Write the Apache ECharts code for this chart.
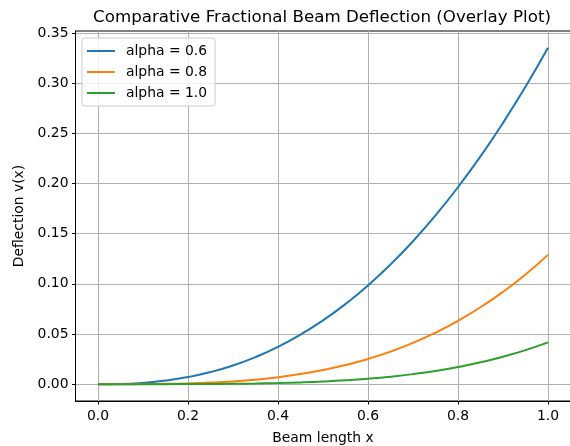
<!DOCTYPE html>
<html>
<head>
<meta charset="utf-8">
<script src="https://cdn.jsdelivr.net/npm/echarts@6/dist/echarts.min.js"></script>
<style>
  html, body { margin: 0; padding: 0; background: #fff; }
  #chart { width: 570px; height: 446px; }
</style>
</head>
<body>
<div id="chart"></div>
<script>
// beam positions and deflections
var xValues = [0, 0.05, 0.1, 0.15, 0.2, 0.25, 0.3, 0.35, 0.4, 0.45, 0.5,
  0.55, 0.6, 0.65, 0.7, 0.75, 0.8, 0.85, 0.9, 0.95, 1.0];
var deflection06 = [0, 0.00025, 0.00134, 0.00354, 0.00705, 0.01204, 0.01865, 0.0270, 0.03721, 0.04937, 0.06356,
  0.07991, 0.09845, 0.1193, 0.1425, 0.1682, 0.1964, 0.2271, 0.2605, 0.2966, 0.3354];
var deflection08 = [0, 0.0000088, 0.000081, 0.000298, 0.000748, 0.001527, 0.002736, 0.004481, 0.006867, 0.01001, 0.01403,
  0.01903, 0.02514, 0.03248, 0.04118, 0.05135, 0.06313, 0.07664, 0.09202, 0.1094, 0.1289];
var deflection10 = [0, 0.0000003, 0.0000042, 0.0000211, 0.0000667, 0.000163, 0.000338, 0.000625, 0.001067, 0.001709, 0.002604,
  0.003813, 0.0054, 0.007438, 0.01, 0.01318, 0.01707, 0.02175, 0.02734, 0.03394, 0.04167];
var seriesNames = ['alpha = 0.6', 'alpha = 0.8', 'alpha = 1.0'];
var xTicks = [0, 0.2, 0.4, 0.6, 0.8, 1.0];
var yTicks = [0, 0.05, 0.1, 0.15, 0.2, 0.25, 0.3, 0.35];

function pairs(ys) {
  var out = [];
  for (var i = 0; i < xValues.length; i++) {
    out.push([xValues[i], ys[i]]);
  }
  return out;
}

var font = 'DejaVu Sans';
var myChart = echarts.init(document.getElementById('chart'));

var option = {
  animation: false,
  backgroundColor: '#ffffff',
  title: {
    text: 'Comparative Fractional Beam Deflection (Overlay Plot)',
    left: 317,
    top: 4,
    textAlign: 'center',
    textStyle: { fontFamily: font, fontSize: 16.7, fontWeight: 'normal', color: '#000' }
  },
  legend: {
    orient: 'vertical',
    left: 82,
    top: 38,
    padding: [5, 8, 5, 5],
    icon: 'rect',
    itemWidth: 28,
    itemHeight: 2,
    itemGap: 5,
    borderColor: '#cccccc',
    borderWidth: 1,
    borderRadius: 3,
    backgroundColor: 'rgba(255,255,255,0.8)',
    textStyle: { fontFamily: font, fontSize: 13.9, color: '#000', padding: [0, 0, 0, 6], lineHeight: 16 },
    data: seriesNames
  },
  grid: {
    left: 75.5,
    right: -0.5,
    top: 31,
    bottom: 45,
    outerBoundsMode: 'none',
    containLabel: false,
    show: true,
    borderColor: '#000',
    borderWidth: 1
  },
  xAxis: {
    type: 'value',
    min: -0.05,
    max: 1.05,
    name: 'Beam length x',
    nameLocation: 'middle',
    nameGap: 30,
    nameTextStyle: { fontFamily: font, fontSize: 13.9, color: '#000' },
    axisLine: { show: true, onZero: false, lineStyle: { color: '#000', width: 1 } },
    axisTick: { show: true, length: 3.5, customValues: xTicks, lineStyle: { color: '#000' } },
    axisLabel: {
      customValues: xTicks,
      margin: 8,
      fontFamily: font, fontSize: 13.9, color: '#000',
      formatter: function (v) { return v.toFixed(1); }
    },
    splitLine: { show: true, lineStyle: { color: '#b0b0b0', width: 1 } }
  },
  yAxis: {
    type: 'value',
    min: -0.0168,
    max: 0.3521,
    name: 'Deflection v(x)',
    nameLocation: 'middle',
    nameGap: 42,
    nameTextStyle: { fontFamily: font, fontSize: 13.9, color: '#000' },
    axisLine: { show: true, onZero: false, lineStyle: { color: '#000', width: 1 } },
    axisTick: { show: true, length: 3.5, customValues: yTicks, lineStyle: { color: '#000' } },
    axisLabel: {
      customValues: yTicks,
      margin: 7,
      fontFamily: font, fontSize: 13.9, color: '#000',
      formatter: function (v) { return v.toFixed(2); }
    },
    splitLine: { show: true, lineStyle: { color: '#b0b0b0', width: 1 } }
  },
  series: [
    { name: seriesNames[0], type: 'line', data: pairs(deflection06), symbol: 'none', smooth: true,
      lineStyle: { color: '#1f77b4', width: 2 }, itemStyle: { color: '#1f77b4' } },
    { name: seriesNames[1], type: 'line', data: pairs(deflection08), symbol: 'none', smooth: true,
      lineStyle: { color: '#ff7f0e', width: 2 }, itemStyle: { color: '#ff7f0e' } },
    { name: seriesNames[2], type: 'line', data: pairs(deflection10), symbol: 'none', smooth: true,
      lineStyle: { color: '#2ca02c', width: 2 }, itemStyle: { color: '#2ca02c' } }
  ]
};
myChart.setOption(option);
</script>
</body>
</html>
